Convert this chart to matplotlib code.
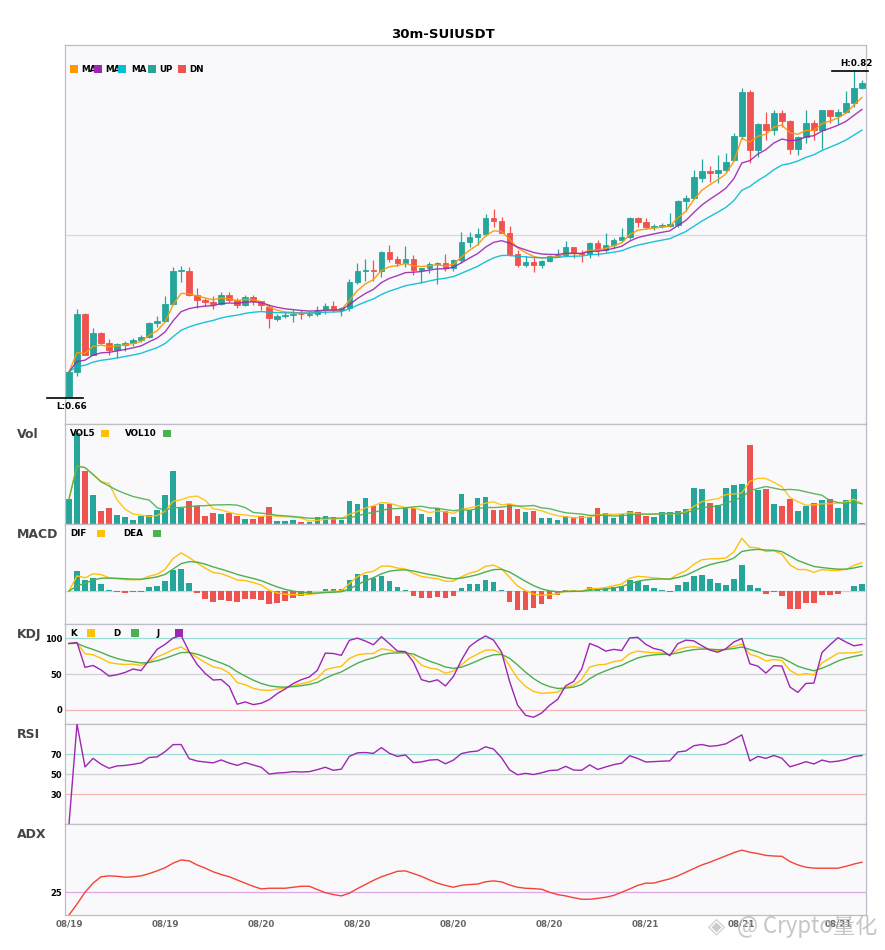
import numpy as np
import pandas as pd
import matplotlib
matplotlib.use("Agg")
import matplotlib.pyplot as plt
from matplotlib.patches import Rectangle

# ---- dados (30m SUIUSDT, 100 candles) ----
opens = [0.6605, 0.6727, 0.7010, 0.6812, 0.6920, 0.6871, 0.6834, 0.6858, 0.6868, 0.6883,
         0.6897, 0.6966, 0.6974, 0.7059, 0.7222, 0.7222, 0.7103, 0.7080, 0.7070, 0.7062,
         0.7106, 0.7078, 0.7057, 0.7095, 0.7074, 0.7046, 0.6987, 0.7002, 0.7005, 0.7013,
         0.7008, 0.7013, 0.7029, 0.7049, 0.7029, 0.7038, 0.7168, 0.7220, 0.7225, 0.7220,
         0.7315, 0.7279, 0.7258, 0.7279, 0.7225, 0.7234, 0.7255, 0.7261, 0.7234, 0.7274,
         0.7361, 0.7388, 0.7402, 0.7481, 0.7467, 0.7408, 0.7303, 0.7253, 0.7266, 0.7253,
         0.7271, 0.7294, 0.7299, 0.7337, 0.7307, 0.7305, 0.7359, 0.7323, 0.7348, 0.7372,
         0.7388, 0.7481, 0.7462, 0.7437, 0.7441, 0.7443, 0.7446, 0.7563, 0.7579, 0.7679,
         0.7710, 0.7699, 0.7715, 0.7764, 0.7882, 0.8099, 0.7813, 0.7940, 0.7911, 0.7996,
         0.7956, 0.7821, 0.7878, 0.7947, 0.7911, 0.8009, 0.7980, 0.8001, 0.8042, 0.8118]
highs = [0.6737, 0.7034, 0.7015, 0.6943, 0.6922, 0.6887, 0.6868, 0.6878, 0.6891, 0.6907,
         0.6972, 0.7000, 0.7097, 0.7242, 0.7246, 0.7239, 0.7136, 0.7087, 0.7100, 0.7119,
         0.7119, 0.7087, 0.7103, 0.7103, 0.7076, 0.7062, 0.7013, 0.7021, 0.7029, 0.7029,
         0.7025, 0.7049, 0.7065, 0.7075, 0.7043, 0.7180, 0.7258, 0.7279, 0.7274, 0.7320,
         0.7348, 0.7294, 0.7343, 0.7299, 0.7236, 0.7266, 0.7266, 0.7304, 0.7278, 0.7410,
         0.7413, 0.7430, 0.7500, 0.7524, 0.7486, 0.7441, 0.7323, 0.7294, 0.7283, 0.7274,
         0.7299, 0.7327, 0.7367, 0.7339, 0.7323, 0.7364, 0.7372, 0.7408, 0.7381, 0.7434,
         0.7486, 0.7486, 0.7479, 0.7449, 0.7457, 0.7503, 0.7568, 0.7593, 0.7715, 0.7769,
         0.7735, 0.7788, 0.7797, 0.7895, 0.8115, 0.8107, 0.7944, 0.8001, 0.8009, 0.8012,
         0.7960, 0.7880, 0.8009, 0.7963, 0.8010, 0.8012, 0.8017, 0.8103, 0.8200, 0.8156]
lows = [0.6600, 0.6708, 0.6810, 0.6810, 0.6866, 0.6812, 0.6793, 0.6829, 0.6852, 0.6874,
        0.6894, 0.6948, 0.6972, 0.7054, 0.7168, 0.7100, 0.7038, 0.7051, 0.7033, 0.7057,
        0.7070, 0.7038, 0.7051, 0.7054, 0.7030, 0.6943, 0.6977, 0.6989, 0.6972, 0.6985,
        0.6994, 0.7000, 0.7013, 0.7021, 0.7002, 0.7025, 0.7160, 0.7171, 0.7171, 0.7193,
        0.7265, 0.7246, 0.7242, 0.7201, 0.7163, 0.7212, 0.7160, 0.7222, 0.7222, 0.7258,
        0.7339, 0.7348, 0.7392, 0.7437, 0.7405, 0.7294, 0.7242, 0.7239, 0.7217, 0.7234,
        0.7266, 0.7290, 0.7294, 0.7283, 0.7266, 0.7283, 0.7294, 0.7315, 0.7332, 0.7364,
        0.7376, 0.7437, 0.7425, 0.7421, 0.7430, 0.7437, 0.7437, 0.7516, 0.7572, 0.7658,
        0.7658, 0.7650, 0.7707, 0.7759, 0.7870, 0.7748, 0.7780, 0.7862, 0.7886, 0.7927,
        0.7793, 0.7789, 0.7846, 0.7862, 0.7821, 0.7947, 0.7940, 0.7993, 0.8025, 0.8112]
closes = [0.6727, 0.7010, 0.6812, 0.6920, 0.6871, 0.6834, 0.6862, 0.6868, 0.6881, 0.6897,
          0.6966, 0.6974, 0.7059, 0.7222, 0.7225, 0.7103, 0.7080, 0.7070, 0.7062, 0.7106,
          0.7078, 0.7057, 0.7095, 0.7074, 0.7054, 0.6989, 0.7000, 0.7004, 0.7013, 0.7010,
          0.7013, 0.7029, 0.7049, 0.7029, 0.7038, 0.7168, 0.7220, 0.7225, 0.7220, 0.7315,
          0.7279, 0.7258, 0.7279, 0.7225, 0.7234, 0.7255, 0.7261, 0.7234, 0.7274, 0.7361,
          0.7388, 0.7402, 0.7481, 0.7467, 0.7408, 0.7303, 0.7250, 0.7266, 0.7253, 0.7271,
          0.7294, 0.7299, 0.7337, 0.7307, 0.7305, 0.7359, 0.7323, 0.7348, 0.7372, 0.7388,
          0.7481, 0.7462, 0.7437, 0.7441, 0.7446, 0.7449, 0.7563, 0.7579, 0.7682, 0.7710,
          0.7699, 0.7715, 0.7753, 0.7882, 0.8099, 0.7813, 0.7940, 0.7911, 0.7996, 0.7956,
          0.7821, 0.7878, 0.7947, 0.7911, 0.8009, 0.7980, 0.8001, 0.8042, 0.8115, 0.8143]
volumes = [250, 907, 530, 290, 133, 160, 90, 70, 40, 83,
           90, 140, 290, 530, 163, 230, 180, 80, 110, 100,
           110, 83, 50, 50, 80, 170, 30, 30, 40, 23,
           20, 67, 80, 67, 40, 230, 200, 260, 180, 200,
           200, 80, 160, 160, 97, 70, 160, 130, 70, 300,
           140, 260, 270, 140, 140, 200, 150, 120, 130, 60,
           60, 40, 80, 70, 80, 70, 160, 110, 60, 100,
           130, 120, 80, 70, 120, 120, 130, 150, 360, 350,
           210, 190, 360, 390, 400, 790, 340, 350, 200, 180,
           250, 130, 180, 210, 240, 250, 160, 240, 350, 10]
adx = [0, 12, 25, 35, 42, 43, 42.5, 41.5, 42, 43,
       45.5, 48.5, 52, 57, 60.5, 59.5, 55, 51.5, 47.5, 44.5,
       42, 38.5, 35, 31.5, 28.7, 29.4, 29.4, 29.4, 30.5, 31.6,
       31.6, 28, 24.5, 22.5, 21, 24, 29, 33.5, 38, 42,
       45, 48, 48.5, 45.5, 42.5, 38.5, 35, 32.5, 30.5, 32.7,
       33.5, 34, 36.5, 37.5, 36.4, 33, 30.5, 29.4, 29, 28.3,
       25, 22.4, 21, 19, 17.3, 17.3, 18.3, 19.5, 21.5, 25,
       28.7, 32.5, 35, 35, 37.5, 39.7, 43, 47, 51, 55,
       58, 61.5, 65, 68.5, 71.3, 69, 67.5, 65.5, 64.8, 64.5,
       58.8, 55, 52.5, 51.5, 51.4, 51.4, 51.4, 53.5, 56, 58]
tick_pos = [0, 12, 24, 36, 48, 60, 72, 84, 96]
tick_labels = ["08/19", "08/19", "08/20", "08/20", "08/20", "08/20", "08/21", "08/21", "08/21"]
titulo = "30m-SUIUSDT"

# cores
UP, DN = "#26A69A", "#EF5350"
C_MA5, C_MA10, C_MA20 = "#FF9800", "#9C27B0", "#00BCD4"
C_Y, C_G, C_P = "#FFC107", "#4CAF50", "#9C27B0"
FACE = "#F9F9FB"
SPINE = "#BDBDC6"

df = pd.DataFrame({"o": opens, "h": highs, "l": lows, "c": closes, "v": volumes})
x = np.arange(len(df))
subiu = df.c >= df.o
cor = np.where(subiu, UP, DN)

# indicadores (medias exponenciais, MACD rapido 6/13/5)
ma5 = df.c.ewm(span=5, adjust=False).mean()
ma10 = df.c.ewm(span=10, adjust=False).mean()
ma20 = df.c.ewm(span=20, adjust=False).mean()
vol5 = df.v.rolling(5, min_periods=1).mean()
vol10 = df.v.rolling(10, min_periods=1).mean()

dif = df.c.ewm(span=6, adjust=False).mean() - df.c.ewm(span=13, adjust=False).mean()
dea = dif.ewm(span=5, adjust=False).mean()
hist = 2 * (dif - dea)

low9 = df.l.rolling(9, min_periods=1).min()
high9 = df.h.rolling(9, min_periods=1).max()
rsv = (df.c - low9) / (high9 - low9) * 100
k = rsv.ewm(com=2, adjust=False).mean()
d = k.ewm(com=2, adjust=False).mean()
j = 3 * k - 2 * d

delta = df.c.diff()
ganho = delta.clip(lower=0).ewm(com=13).mean()
perda = (-delta.clip(upper=0)).ewm(com=13).mean()
rsi = (100 * ganho / (ganho + perda)).fillna(0)

# layout em pixels (885 x 950)
W, H = 885, 950
fig = plt.figure(figsize=(W / 100, H / 100), dpi=100)
fig.patch.set_facecolor("white")


def px_ax(top, bottom, left=65, right=866):
    return fig.add_axes([left / W, 1 - bottom / H, (right - left) / W, (bottom - top) / H])


ax_main = px_ax(45, 424)
ax_vol = px_ax(424, 524)
ax_macd = px_ax(524, 624)
ax_kdj = px_ax(624, 724)
ax_rsi = px_ax(724, 824)
ax_adx = px_ax(824, 915)
eixos = [ax_main, ax_vol, ax_macd, ax_kdj, ax_rsi, ax_adx]

for ax in eixos:
    ax.set_facecolor(FACE)
    ax.set_xlim(-0.5, len(df) - 0.5)
    for s in ax.spines.values():
        s.set_color(SPINE)
        s.set_linewidth(0.9)
    ax.tick_params(length=0, pad=2)
    ax.set_xticks([])
    ax.set_yticks([])

# candles
ax_main.vlines(x, df.l, df.h, colors=cor, linewidth=0.9, zorder=2)
ax_main.bar(x, (df.c - df.o).abs(), bottom=np.minimum(df.o, df.c), width=0.7,
            color=cor, edgecolor=cor, linewidth=0.6, zorder=3)
ax_main.plot(x, ma5, color=C_MA5, lw=1.0, alpha=0.95, zorder=4)
ax_main.plot(x, ma10, color=C_MA10, lw=1.0, alpha=0.9, zorder=4)
ax_main.plot(x, ma20, color=C_MA20, lw=1.0, alpha=0.9, zorder=4)
lo, hi = df.l.min(), df.h.max()
faixa = hi - lo
ax_main.set_ylim(lo - 0.08 * faixa, hi + 0.08 * faixa)
ax_main.axhline((lo + hi) / 2, color="#D9D9DD", lw=0.9, zorder=1)

imax, imin = int(df.h.idxmax()), int(df.l.idxmin())
ax_main.plot([imax - 2.7, imax + 1.8], [hi, hi], color="black", lw=1.2, clip_on=False, zorder=5)
ax_main.annotate(f"H:{hi:.2f}", (imax + 0.3, hi), xytext=(0, 2.5), textcoords="offset points",
                 ha="center", va="bottom", fontsize=6.3, fontweight="bold")
ax_main.plot([imin - 2.7, imin + 1.8], [lo, lo], color="black", lw=1.2, clip_on=False, zorder=5)
ax_main.annotate(f"L:{lo:.2f}", (imin + 0.3, lo), xytext=(0, -3), textcoords="offset points",
                 ha="center", va="top", fontsize=6.3, fontweight="bold")

# volume
ax_vol.bar(x, df.v, width=0.7, color=cor, zorder=2)
ax_vol.plot(x, vol5, color=C_Y, lw=1.0, alpha=0.9, zorder=3)
ax_vol.plot(x, vol10, color=C_G, lw=1.0, alpha=0.9, zorder=3)
ax_vol.set_ylim(0, df.v.max() * 1.1)

# macd
ax_macd.axhline(0, color="#D0D0D4", lw=0.9, zorder=1)
ax_macd.bar(x, hist, width=0.7, color=np.where(hist >= 0, UP, DN), zorder=2)
ax_macd.plot(x, dif, color=C_Y, lw=1.0, zorder=3)
ax_macd.plot(x, dea, color=C_G, lw=1.0, zorder=3)
mn = min(dif.min(), dea.min(), hist.min())
mx = max(dif.max(), dea.max(), hist.max())
r = mx - mn
ax_macd.set_ylim(mn - 0.2 * r, mx + 0.2 * r)

# kdj
ax_kdj.axhline(100, color="#9ADBD3", lw=0.9, zorder=1)
ax_kdj.axhline(50, color="#D0D0D4", lw=0.9, zorder=1)
ax_kdj.axhline(0, color="#F5B5B5", lw=0.9, zorder=1)
ax_kdj.plot(x, k, color=C_Y, lw=1.0, zorder=3)
ax_kdj.plot(x, d, color=C_G, lw=1.0, zorder=3)
ax_kdj.plot(x, j, color=C_P, lw=1.0, zorder=3)
ax_kdj.set_ylim(-20, 120)
ax_kdj.set_yticks([0, 50, 100])

# rsi
ax_rsi.axhline(70, color="#9ADBD3", lw=0.9, zorder=1)
ax_rsi.axhline(50, color="#D0D0D4", lw=0.9, zorder=1)
ax_rsi.axhline(30, color="#F5B5B5", lw=0.9, zorder=1)
ax_rsi.plot(x, rsi, color=C_P, lw=1.0, zorder=3)
ax_rsi.set_ylim(0, 100)
ax_rsi.set_yticks([30, 50, 70])

# adx
ax_adx.axhline(25, color="#DDA8E8", lw=0.9, zorder=1)
ax_adx.plot(x, adx, color="#F44336", lw=1.0, zorder=3)
ax_adx.set_ylim(0, 100)
ax_adx.set_yticks([25])
ax_adx.set_xticks(tick_pos)
ax_adx.set_xticklabels(tick_labels)
ax_adx.tick_params(axis="x", pad=3, labelsize=6.3, labelcolor="#666666")
for t in ax_adx.get_xticklabels():
    t.set_fontweight("bold")

for ax in [ax_kdj, ax_rsi, ax_adx]:
    ax.tick_params(axis="y", labelsize=6, pad=2)
    for t in ax.get_yticklabels():
        t.set_fontweight("bold")

# titulo e rotulos dos paineis
fig.text(443 / W, 1 - 34.5 / H, titulo, ha="center", va="center", fontsize=9.5, fontweight="bold")
for nome, yc in [("Vol", 434.7), ("MACD", 534.7), ("KDJ", 634.7), ("RSI", 734.3), ("ADX", 834.7)]:
    fig.text(17 / W, 1 - yc / H, nome, ha="left", va="center", fontsize=9, fontweight="bold",
             color="#444444")


def quadrado(xp, yc, c):
    fig.patches.append(Rectangle((xp / W, 1 - (yc + 3.6) / H), 7.8 / W, 7.2 / H,
                                 transform=fig.transFigure, facecolor=c, edgecolor="none",
                                 zorder=5))


def rotulo(xp, yc, s):
    fig.text(xp / W, 1 - yc / H, s, ha="left", va="center", fontsize=6.3, fontweight="bold",
             zorder=4)


# legendas
for xq, c in [(70, C_MA5), (94.3, C_MA10), (118.3, C_MA20), (148.3, UP), (178.3, DN)]:
    quadrado(xq, 69, c)
for xt, s in [(81, "MA"), (105, "MA"), (131, "MA"), (159.3, "UP"), (189, "DN")]:
    rotulo(xt, 69, s)

rotulo(70, 434, "VOL5")
quadrado(101, 433.7, C_Y)
rotulo(125.3, 434, "VOL10")
quadrado(163, 433.7, C_G)

rotulo(70, 533.7, "DIF")
quadrado(97, 533.3, C_Y)
rotulo(123.3, 533.7, "DEA")
quadrado(153, 533.3, C_G)

rotulo(70, 633.3, "K")
quadrado(87, 633, C_Y)
rotulo(113.3, 633.3, "D")
quadrado(131, 633, C_G)
rotulo(156.7, 633.3, "J")
quadrado(175, 633, C_P)

# marca d'agua
fig.text(716 / W, 1 - 926 / H, "◈", ha="center", va="center", fontsize=16, color="#C0C0C0",
         alpha=0.8)
fig.text(737 / W, 1 - 926 / H, "@ Crypto量化", ha="left", va="center", fontsize=16,
         color="#B8B8B8", alpha=0.8, family=["Noto Sans CJK SC", "DejaVu Sans"])

fig.savefig("out.png", dpi=100)
